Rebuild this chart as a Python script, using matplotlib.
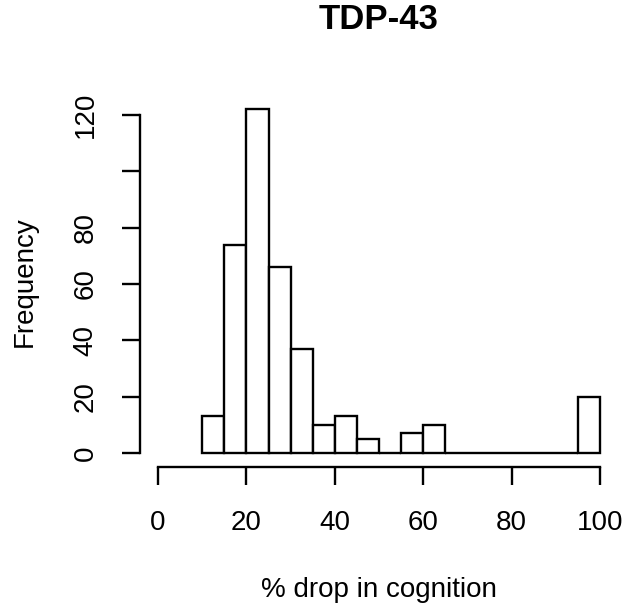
import numpy as np
import matplotlib
matplotlib.use("Agg")
import matplotlib.pyplot as plt

plt.rcParams["font.family"] = ["Liberation Sans", "DejaVu Sans"]

# Histogram bins (5-point wide) and counts
bin_edges = [10, 15, 20, 25, 30, 35, 40, 45, 50, 55, 60, 65, 70, 75, 80, 85, 90, 95, 100]
counts = [13, 74, 122, 66, 37, 10, 13, 5, 0, 7, 10, 0, 0, 0, 0, 0, 0, 20]

x_ticks = [0, 20, 40, 60, 80, 100]
y_ticks = [0, 20, 40, 60, 80, 100, 120]
y_tick_labels = ["0", "20", "40", "60", "80", "", "120"]


def main():
    fig = plt.figure(figsize=(6.24, 6.07), dpi=100)
    ax = fig.add_axes([0.2249, 0.2311, 0.9899 - 0.2249, 0.8425 - 0.2311])

    widths = np.diff(bin_edges)
    ax.bar(bin_edges[:-1], counts, width=widths, align="edge",
           facecolor="white", edgecolor="black", linewidth=1.7)

    ax.set_xlim(-4, 104)
    ax.set_ylim(-4.88, 126.88)

    for side in ["top", "right"]:
        ax.spines[side].set_visible(False)
    ax.spines["left"].set_bounds(0, 120)
    ax.spines["bottom"].set_bounds(0, 100)
    for side in ["left", "bottom"]:
        ax.spines[side].set_linewidth(1.7)

    ax.set_xticks(x_ticks)
    ax.set_xticklabels([str(v) for v in x_ticks])
    ax.set_yticks(y_ticks)
    ax.set_yticklabels(y_tick_labels, rotation=90, va="center")
    ax.tick_params(axis="both", length=13, width=1.7, labelsize=20, direction="out")
    ax.tick_params(axis="x", pad=18)
    ax.tick_params(axis="y", pad=17)

    ax.set_xlabel("% drop in cognition", fontsize=20, labelpad=30)
    ax.set_ylabel("Frequency", fontsize=20, labelpad=25)
    # centre the title on the plot region, near the top of the figure
    title_y = (1 - 37 / 607 - 0.2311) / (0.8425 - 0.2311)
    ax.set_title("TDP-43", fontsize=25, fontweight="bold", y=title_y, va="baseline")

    fig.savefig("out.png", dpi=100)


if __name__ == "__main__":
    main()
